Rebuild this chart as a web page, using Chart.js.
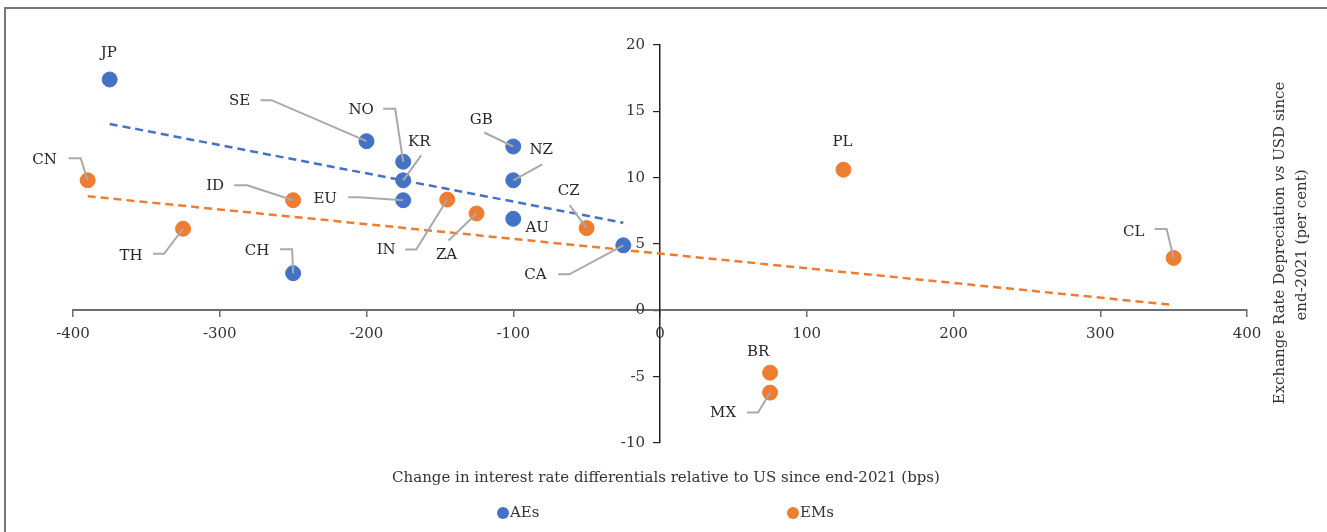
<!DOCTYPE html>
<html>
<head>
<meta charset="utf-8">
<script src="https://cdn.jsdelivr.net/npm/chart.js@4.4.1/dist/chart.umd.min.js"></script>
<style>
  html, body { margin: 0; padding: 0; background: #fff; }
  #wrap { width: 1327px; height: 532px; }
</style>
</head>
<body>
<div id="wrap"><canvas id="myChart"></canvas></div>
<script>
// AEs (advanced economies) - bps change vs US, depreciation in per cent
const aeCodes = ["JP", "SE", "NO", "KR", "EU", "GB", "NZ", "AU", "CA", "CH"];
const aeX = [-375, -200, -175, -175, -175, -100, -100, -100, -25, -250];
const aeY = [17.4, 12.75, 11.2, 9.8, 8.3, 12.35, 9.8, 6.9, 4.9, 2.8];

// EMs (emerging markets)
const emCodes = ["CN", "ID", "TH", "IN", "ZA", "CZ", "PL", "CL", "BR", "MX"];
const emX = [-390, -250, -325, -145, -125, -50, 125, 350, 75, 75];
const emY = [9.8, 8.3, 6.15, 8.35, 7.3, 6.2, 10.6, 3.95, -4.7, -6.2];

// trend line end points
const aeTrendX = [-375, -25];
const aeTrendY = [14.05, 6.6];
const emTrendX = [-390, 350];
const emTrendY = [8.6, 0.4];

// axis ticks
const xTicks = [-400, -300, -200, -100, 0, 100, 200, 300, 400];
const yTicks = [-10, -5, 0, 5, 10, 15, 20];

const xTitle = "Change in interest rate differentials relative to US since end-2021 (bps)";
const seriesNames = ["AEs", "EMs"];

const BLUE = "#4472C4";
const ORANGE = "#ED7D31";
const FONT = "'DejaVu Serif', serif";

// label placement: text offset from point (px), then leader line bends
const labelPos = {
  JP: { t: [-1, -26] },
  SE: { t: [-127, -40], l: [[-106, -41], [-95, -41]] },
  NO: { t: [-42, -52], l: [[-20, -53], [-8, -53]] },
  KR: { t: [16, -38], l: [[18, -25]] },
  EU: { t: [-78, -1], l: [[-55, -3], [-44, -3]] },
  GB: { t: [-32, -26], l: [[-29, -14]] },
  NZ: { t: [28, -30], l: [[29, -16]] },
  AU: { t: [24, 9] },
  CA: { t: [-88, 30], l: [[-65, 29], [-54, 29]] },
  CH: { t: [-36, -22], l: [[-13, -24], [-1, -24]] },
  CN: { t: [-43, -20], l: [[-19, -22], [-7, -22]] },
  ID: { t: [-78, -14], l: [[-59, -15], [-46, -15]] },
  TH: { t: [-52, 27], l: [[-30, 25], [-19, 25]] },
  IN: { t: [-61, 51], l: [[-42, 50], [-31, 50]] },
  ZA: { t: [-30, 42], l: [[-28, 27]] },
  CZ: { t: [-18, -37], l: [[-17, -23]] },
  PL: { t: [-1, -28] },
  CL: { t: [-40, -26], l: [[-19, -29], [-7, -29]] },
  BR: { t: [-12, -21] },
  MX: { t: [-47, 21], l: [[-23, 20], [-12, 20]] },
};

const toPoints = (xs, ys) => xs.map((x, i) => ({ x: x, y: ys[i] }));

const annotations = {
  id: "annotations",
  beforeDraw(chart) {
    const ctx = chart.ctx;
    ctx.save();
    ctx.strokeStyle = "#767676";
    ctx.lineWidth = 2;
    ctx.strokeRect(5, 8, 1340, 540);
    ctx.restore();
  },
  afterDatasetsDraw(chart) {
    const ctx = chart.ctx;
    const xs = chart.scales.x, ys = chart.scales.y;
    const groups = [[aeCodes, aeX, aeY], [emCodes, emX, emY]];
    ctx.save();
    ctx.font = "15px " + FONT;
    ctx.textAlign = "center";
    ctx.textBaseline = "middle";
    groups.forEach(([codes, gx, gy]) => {
      codes.forEach((c, i) => {
        const px = xs.getPixelForValue(gx[i]);
        const py = ys.getPixelForValue(gy[i]);
        const p = labelPos[c];
        if (p.l) {
          ctx.strokeStyle = "#A9A9A9";
          ctx.lineWidth = 2;
          ctx.beginPath();
          ctx.moveTo(px + p.l[0][0], py + p.l[0][1]);
          p.l.slice(1).forEach(q => ctx.lineTo(px + q[0], py + q[1]));
          ctx.lineTo(px, py);
          ctx.stroke();
        }
        ctx.fillStyle = "#262626";
        ctx.fillText(c, px + p.t[0], py + p.t[1]);
      });
    });
    ctx.restore();
  },
  afterDraw(chart) {
    const ctx = chart.ctx;
    const xs = chart.scales.x, ys = chart.scales.y;
    ctx.save();
    ctx.fillStyle = "#333";
    ctx.textBaseline = "middle";

    // y tick labels, left of the centred axis
    ctx.font = "15px " + FONT;
    ctx.textAlign = "right";
    const axisX = xs.getPixelForValue(0);
    yTicks.forEach(v => ctx.fillText(String(v), axisX - 15, ys.getPixelForValue(v)));

    ctx.textAlign = "center";
    ctx.fillText(xTitle, 666, 478);

    // rotated y title, "vs" in italics
    const parts = [["Exchange Rate Depreciation ", ""], ["vs", "italic "], [" USD since", ""]];
    ctx.translate(1280, 243);
    ctx.rotate(-Math.PI / 2);
    let total = 0;
    parts.forEach(p => { ctx.font = p[1] + "15px " + FONT; total += ctx.measureText(p[0]).width; });
    let x = -total / 2;
    ctx.textAlign = "left";
    parts.forEach(p => {
      ctx.font = p[1] + "15px " + FONT;
      ctx.fillText(p[0], x, 0);
      x += ctx.measureText(p[0]).width;
    });
    ctx.font = "15px " + FONT;
    ctx.textAlign = "center";
    ctx.fillText("end-2021 (per cent)", -2, 22);
    ctx.setTransform(1, 0, 0, 1, 0, 0);

    // legend
    const leg = [[503, BLUE], [793, ORANGE]];
    leg.forEach((l, i) => {
      ctx.fillStyle = l[1];
      ctx.beginPath();
      ctx.arc(l[0], 513, 6, 0, Math.PI * 2);
      ctx.fill();
      ctx.fillStyle = "#333";
      ctx.textAlign = "left";
      ctx.font = "15px " + FONT;
      ctx.fillText(seriesNames[i], l[0] + 7, 513);
    });
    ctx.restore();
  },
};

const config = {
  type: "scatter",
  data: {
    datasets: [
      {
        label: seriesNames[0],
        data: toPoints(aeX, aeY),
        backgroundColor: BLUE,
        borderColor: BLUE,
        pointRadius: 7.5,
        pointHoverRadius: 7.5,
        order: 0,
      },
      {
        label: seriesNames[1],
        data: toPoints(emX, emY),
        backgroundColor: ORANGE,
        borderColor: ORANGE,
        pointRadius: 7.5,
        pointHoverRadius: 7.5,
        order: 0,
      },
      {
        label: "AE trend",
        data: toPoints(aeTrendX, aeTrendY),
        showLine: true,
        borderColor: BLUE,
        borderWidth: 2.5,
        borderDash: [8, 5],
        pointRadius: 0,
        order: 1,
      },
      {
        label: "EM trend",
        data: toPoints(emTrendX, emTrendY),
        showLine: true,
        borderColor: ORANGE,
        borderWidth: 2.5,
        borderDash: [8, 5],
        pointRadius: 0,
        order: 1,
      },
    ],
  },
  options: {
    responsive: true,
    maintainAspectRatio: false,
    animation: false,
    layout: { padding: { left: 73, right: 80, top: 45, bottom: 89 } },
    plugins: {
      legend: { display: false },
      tooltip: { enabled: false },
    },
    scales: {
      x: {
        type: "linear",
        position: { y: 0 },
        min: -400,
        max: 400,
        afterBuildTicks: (s) => { s.ticks = xTicks.map(v => ({ value: v })); },
        grid: { drawOnChartArea: false, tickLength: 6, color: "#6E6E6E", lineWidth: 1.5 },
        border: { color: "#6E6E6E", width: 2 },
        ticks: { color: "#333", font: { family: FONT, size: 15 }, padding: 9 },
      },
      y: {
        type: "linear",
        position: { x: 0 },
        min: -10,
        max: 20,
        afterBuildTicks: (s) => { s.ticks = yTicks.map(v => ({ value: v })); },
        grid: { drawOnChartArea: false, tickLength: 6, color: "#222", lineWidth: 1.2 },
        border: { color: "#222", width: 1.5 },
        ticks: { display: false },
      },
    },
  },
  plugins: [annotations],
};

const myChart = new Chart(document.getElementById("myChart"), config);
</script>
</body>
</html>
